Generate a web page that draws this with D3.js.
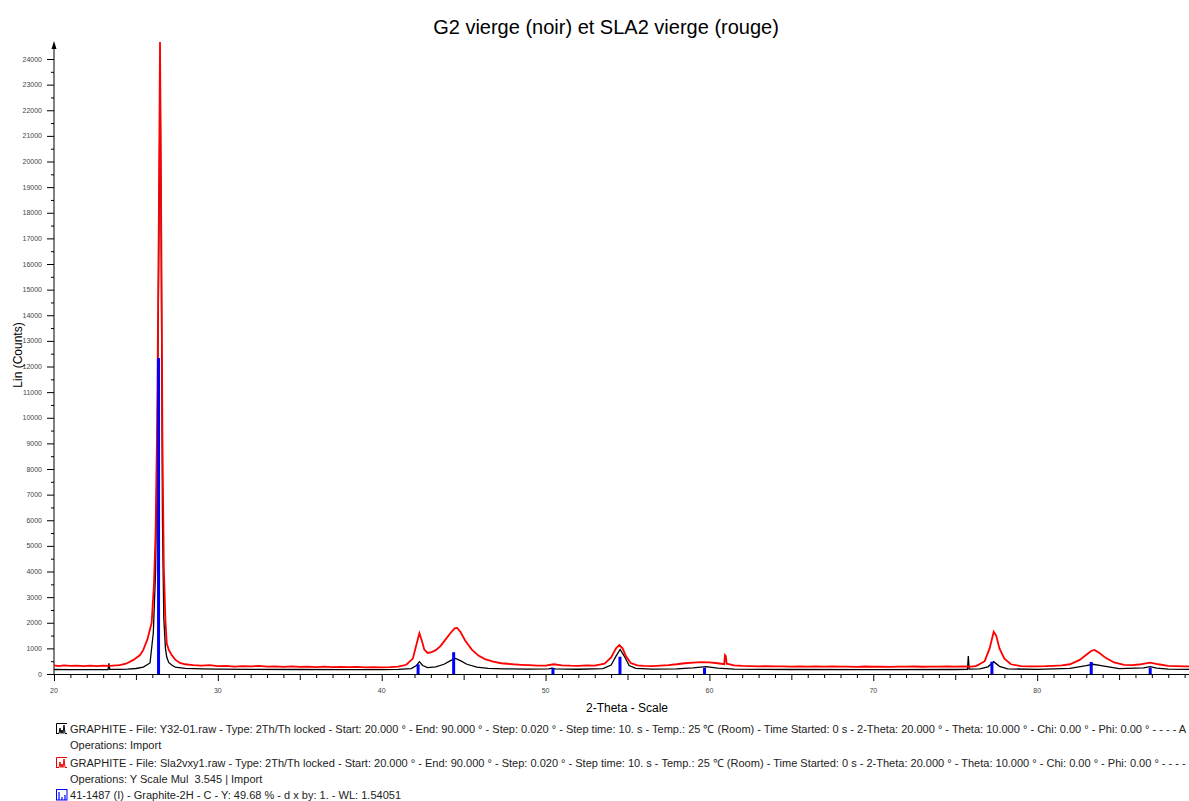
<!DOCTYPE html>
<html><head><meta charset="utf-8">
<script src="https://cdn.jsdelivr.net/npm/d3@7"></script>
<style>
html,body{margin:0;padding:0;background:#fff;overflow:hidden}
svg{display:block;font-family:"Liberation Sans",Arial,sans-serif}
</style></head>
<body>
<svg id="c" width="1189" height="801"></svg>
<script>
// ---- data ----
const title = "G2 vierge (noir) et SLA2 vierge (rouge)";
const xLabel = "2-Theta - Scale";
const yLabel = "Lin (Counts)";
const xTicks = [20,30,40,50,60,70,80];
const yTicks = [0,1000,2000,3000,4000,5000,6000,7000,8000,9000,10000,11000,12000,13000,14000,15000,16000,17000,18000,19000,20000,21000,22000,23000,24000];

// G2 (black) : 2-theta
const g2X = [20,21,22,23,23.3,23.35,23.4,24,24.5,25,25.45,25.86,26.06,26.2,26.3,26.4,26.48,26.55,26.62,26.7,26.8,26.88,27.0,27.18,27.4,28,29,30,32,35,38,40,41,41.8,42.1,42.3,42.5,42.8,43.3,43.8,44.2,44.5,44.8,45.2,45.8,46.5,47.5,49,50.2,50.4,50.6,52,53.5,54,54.3,54.55,54.8,55.1,55.5,56.5,58,59,59.8,60.5,61.5,65,70,75,75.75,75.8,75.85,76.5,77,77.35,77.7,78.2,80,82,83,83.4,84,85,86.5,86.9,87.3,88,90];
// G2 (black) : counts
const g2Y = [175,172,170,172,175,420,178,180,190,215,270,430,1600,4000,9000,17000,23600,16000,6000,2200,1000,660,450,350,270,220,200,190,180,175,170,170,180,210,320,480,330,250,280,380,520,610,520,380,270,220,200,190,200,230,200,185,210,350,700,960,700,330,220,190,200,240,285,230,190,175,170,175,180,700,190,200,280,480,300,200,180,220,330,380,320,210,240,285,230,190,180];

// SLA2 (red) : 2-theta
const slaX = [20,20.3,20.6,21,21.4,21.8,22.2,22.6,23,23.4,23.8,24,24.4,24.85,25.25,25.45,25.7,25.96,26.1,26.2,26.3,26.4,26.47,26.55,26.62,26.7,26.8,26.88,27.0,27.18,27.4,27.69,28,28.5,29,29.5,30,30.5,31,31.5,32,32.5,33,33.5,34,34.5,35,35.5,36,36.5,37,37.5,38,38.5,39,39.5,40,40.5,41,41.5,41.9,42.1,42.3,42.45,42.6,42.8,43.0,43.3,43.6,43.9,44.2,44.45,44.6,44.8,45.1,45.5,45.9,46.3,46.8,47.3,48,48.5,49,49.5,50,50.5,51,51.5,52,52.5,53,53.6,54.0,54.3,54.5,54.7,54.9,55.2,55.6,56,56.5,57,57.5,58,58.5,59,59.5,60,60.5,60.9,60.95,61.0,61.05,61.5,62,62.5,63,63.5,64,64.5,65,65.5,66,66.5,67,67.5,68,68.5,69,69.5,70,70.5,71,71.5,72,72.5,73,73.5,74,74.5,75,75.5,76,76.3,76.8,77.1,77.35,77.5,77.7,78.0,78.4,79,79.5,80,80.5,81,81.5,82,82.6,83.0,83.3,83.5,83.8,84.2,84.7,85.3,85.8,86.2,86.9,87.4,88,88.5,89,89.5,90];
// SLA2 (red) : counts
const slaY = [340,310,335,315,330,305,325,310,330,315,340,350,400,550,740,940,1350,2000,3500,5500,10000,18000,24660,17000,9000,4200,2100,1200,950,740,560,430,380,350,330,345,305,320,290,310,300,315,285,300,280,295,275,290,270,285,265,280,268,275,260,272,262,270,290,360,600,1100,1590,1300,950,820,840,930,1100,1350,1600,1780,1800,1650,1300,950,720,580,480,420,380,360,345,330,330,380,340,325,320,335,330,400,650,1000,1130,1000,700,430,340,320,310,330,350,380,420,440,460,450,420,380,740,700,400,340,320,310,300,305,295,300,290,300,290,295,285,295,285,290,280,292,282,288,280,290,285,292,283,290,285,292,287,295,290,320,500,1000,1650,1500,1000,600,380,310,300,300,305,320,340,380,550,750,900,940,820,620,450,360,345,370,440,380,320,310,300,295,290];

// PDF 41-1487 Graphite-2H (blue sticks)
const stickX = [26.38,42.22,44.39,50.45,54.54,59.70,77.24,83.30,86.90];
const stickY = [12330,380,850,220,675,245,480,470,245];

const legendLines = [
  {icon:"#000", text:"GRAPHITE - File: Y32-01.raw - Type: 2Th/Th locked - Start: 20.000 \u00b0 - End: 90.000 \u00b0 - Step: 0.020 \u00b0 - Step time: 10. s - Temp.: 25 \u2103 (Room) - Time Started: 0 s - 2-Theta: 20.000 \u00b0 - Theta: 10.000 \u00b0 - Chi: 0.00 \u00b0 - Phi: 0.00 \u00b0 - - - - A"},
  {icon:null, text:"Operations: Import"},
  {icon:"#e00", text:"GRAPHITE - File: Sla2vxy1.raw - Type: 2Th/Th locked - Start: 20.000 \u00b0 - End: 90.000 \u00b0 - Step: 0.020 \u00b0 - Step time: 10. s - Temp.: 25 \u2103 (Room) - Time Started: 0 s - 2-Theta: 20.000 \u00b0 - Theta: 10.000 \u00b0 - Chi: 0.00 \u00b0 - Phi: 0.00 \u00b0 - - - -"},
  {icon:null, text:"Operations: Y Scale Mul\u00a0 3.545 | Import"},
  {icon:"#00f", text:"41-1487 (I) - Graphite-2H - C - Y: 49.68 % - d x by: 1. - WL: 1.54051"}
];

// ---- drawing ----
const svg = d3.select("#c");
const x = d3.scaleLinear().domain([20,90]).range([54,1201]);
const y = d3.scaleLinear().domain([0,24000]).range([674,59]);

svg.append("text").attr("x",606).attr("y",34).attr("text-anchor","middle")
  .attr("font-size",20).attr("fill","#000").text(title);

// y axis
const yAxis = svg.append("g");
yAxis.append("line").attr("x1",54).attr("x2",54).attr("y1",674).attr("y2",44).attr("stroke","#000");
yAxis.append("path").attr("d","M54,41 L51.5,49 L56.5,49 Z").attr("fill","#000");
const yMinor = d3.range(500,24500,1000);
yAxis.selectAll(".ymin").data(yMinor).join("line")
  .attr("x1",51).attr("x2",54).attr("y1",d=>y(d)+0.5).attr("y2",d=>y(d)+0.5).attr("stroke","#000");
yAxis.selectAll(".ymaj").data(yTicks).join("line")
  .attr("x1",47).attr("x2",54).attr("y1",d=>y(d)+0.5).attr("y2",d=>y(d)+0.5).attr("stroke","#000");
yAxis.selectAll("text").data(yTicks).join("text")
  .attr("x",42).attr("y",d=>y(d)+2.5).attr("text-anchor","end")
  .attr("font-size",7).attr("fill","#444").text(d=>d);

svg.append("text").attr("transform","translate(22,355) rotate(-90)")
  .attr("text-anchor","middle").attr("font-size",12).attr("fill","#000").text(yLabel);

// x axis
const xAxis = svg.append("g");
xAxis.append("line").attr("x1",54).attr("x2",1189).attr("y1",674.5).attr("y2",674.5).attr("stroke","#000");
const xMinor = d3.range(20,90,1);
xAxis.selectAll("line.t").data(xMinor).join("line").attr("class","t")
  .attr("x1",d=>x(d)+0.5).attr("x2",d=>x(d)+0.5).attr("y1",674)
  .attr("y2",d=> d%10===0 ? 681 : (d%5===0 ? 680 : 678)).attr("stroke","#000");
xAxis.selectAll("text").data(xTicks).join("text")
  .attr("x",d=>x(d)).attr("y",693).attr("text-anchor","middle")
  .attr("font-size",7).attr("fill","#444").text(d=>d);

svg.append("text").attr("x",627).attr("y",712).attr("text-anchor","middle")
  .attr("font-size",12).attr("fill","#000").text(xLabel);

// data lines
const line = d3.line().x(d=>x(d[0])).y(d=>y(d[1]));
svg.append("path").datum(d3.zip(g2X,g2Y)).attr("d",line)
  .attr("fill","none").attr("stroke","#000").attr("stroke-width",1.3);
svg.append("path").datum(d3.zip(slaX,slaY)).attr("d",line)
  .attr("fill","none").attr("stroke","#ff0000").attr("stroke-width",1.8);

// sticks
svg.selectAll("rect.stick").data(d3.zip(stickX,stickY)).join("rect").attr("class","stick")
  .attr("x",d=>x(d[0])-1.5).attr("width",3).attr("y",d=>y(d[1])).attr("height",d=>y(0)-y(d[1]))
  .attr("fill","#0000ff");

// legend
const lg = svg.append("g");
const baseY = [733,749,767,783,799];
legendLines.forEach((L,i)=>{
  lg.append("text").attr("x",70).attr("y",baseY[i]).attr("font-size",11.03).attr("fill","#222").text(L.text);
  if(L.icon){
    const g = lg.append("g").attr("transform",`translate(56,${baseY[i]-10})`);
    if(i<4){
      g.append("path").attr("d","M0.5,11 L0.5,0.5 L11,0.5").attr("fill","none").attr("stroke",L.icon);
      g.append("path").attr("d","M1,10.5 L3,10.5 L4,5 L5,10.5 L6,7 L7,10.5 L8,2 L9,10.5 L11,10.5").attr("fill","none").attr("stroke",L.icon);
    } else {
      g.append("rect").attr("x",0.5).attr("y",0.5).attr("width",10.5).attr("height",10.5).attr("fill","none").attr("stroke",L.icon);
      g.append("path").attr("d","M3,11 L3,3 M6,11 L6,8 M9,11 L9,6").attr("fill","none").attr("stroke",L.icon).attr("stroke-width",1.2);
    }
  }
});
</script>
</body></html>
